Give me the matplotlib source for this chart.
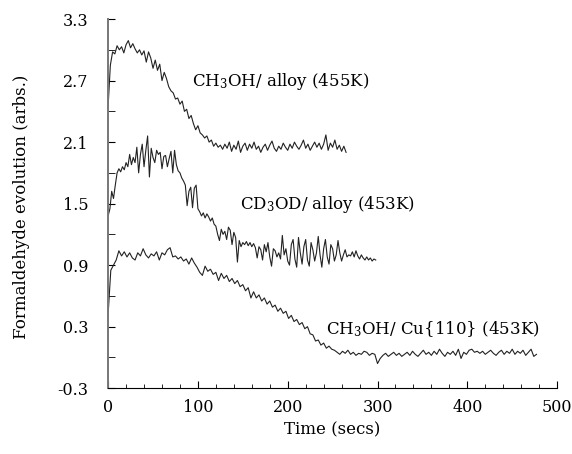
import numpy as np
import matplotlib
matplotlib.use("Agg")
import matplotlib.pyplot as plt

plt.rcParams["font.family"] = "DejaVu Serif"
plt.rcParams["mathtext.fontset"] = "dejavuserif"

# ---------------------------------------------------------------------------
# Data (time step per series, arbitrary units)
# ---------------------------------------------------------------------------

# CH3OH / alloy (455K), sampled every 2.5 s
step_ch3oh_alloy = 2.5
ch3oh_alloy = [
    2.45, 2.85, 2.98, 2.96, 3.04, 3.00, 3.03, 2.97, 3.05, 3.09,
    3.02, 3.06, 3.01, 2.97, 3.00, 2.95, 2.99, 2.88, 2.98, 2.92,
    2.82, 2.90, 2.80, 2.86, 2.70, 2.78, 2.72, 2.64, 2.60, 2.58,
    2.52, 2.53, 2.47, 2.50, 2.40, 2.42, 2.33, 2.36, 2.28, 2.22,
    2.26, 2.19, 2.17, 2.14, 2.16, 2.10, 2.12, 2.06, 2.09, 2.05,
    2.07, 2.03, 2.08, 2.04, 2.10, 2.01, 2.07, 2.03, 2.11, 2.00,
    2.06, 2.09, 2.02, 2.08, 2.04, 2.10, 2.03, 2.06, 2.00, 2.05,
    2.08, 2.02, 2.07, 2.11, 2.04, 2.01, 2.06, 2.03, 2.09, 2.05,
    2.02, 2.08, 2.04, 2.10, 2.06, 2.03, 2.07, 2.12, 2.04, 2.08,
    2.02, 2.06, 2.10, 2.05, 2.09, 2.03, 2.08, 2.17, 2.02, 2.09,
    2.05, 2.12, 2.03, 2.07, 2.01, 2.06, 2.00,
]

# CD3OD / alloy (453K), sampled every 2 s
step_cd3od_alloy = 2.0
cd3od_alloy = [
    1.38, 1.45, 1.62, 1.55, 1.68, 1.80, 1.84, 1.81, 1.86, 1.83,
    1.90, 1.86, 1.98, 1.88, 1.95, 1.90, 2.05, 1.80, 1.98, 2.08,
    1.86, 2.02, 2.16, 1.76, 2.04, 1.95, 1.90, 2.02, 1.98, 2.00,
    1.84, 1.96, 1.97, 1.86, 1.94, 2.01, 1.80, 2.02, 1.88, 1.82,
    1.80, 1.75, 1.72, 1.68, 1.48, 1.62, 1.66, 1.46, 1.65, 1.68,
    1.45, 1.42, 1.38, 1.41, 1.36, 1.40, 1.37, 1.33, 1.36, 1.30,
    1.28, 1.20, 1.14, 1.25, 1.20, 1.23, 1.15, 1.27, 1.24, 1.10,
    1.22, 1.17, 0.93, 1.14, 1.08, 1.12, 1.10, 1.13, 1.09, 1.12,
    1.08, 1.11, 1.07, 0.97, 1.08, 1.05, 0.95, 1.10, 1.03, 1.12,
    0.98, 0.89, 1.06, 1.04, 0.98, 1.02, 0.96, 1.19, 1.00, 1.06,
    0.94, 0.90, 1.10, 1.15, 0.96, 0.88, 1.17, 1.02, 0.91, 1.08,
    1.15, 0.95, 0.89, 1.12, 1.05, 0.94, 1.02, 1.18, 1.00, 0.88,
    1.06, 1.15, 0.98, 0.91, 1.10, 1.06, 0.94, 1.00, 1.14, 1.02,
    0.94, 1.00, 1.05, 0.98, 1.00, 0.99, 1.03, 0.98, 1.04, 0.99,
    0.96, 1.00, 0.97, 0.95, 0.98, 0.95, 0.97, 0.94, 0.96, 0.95,
]

# CH3OH / Cu{110} (453K), sampled every 3 s
step_ch3oh_cu = 3.0
ch3oh_cu = [
    0.42, 0.85, 0.90, 0.95, 1.04, 0.99, 1.03, 0.98, 1.02, 0.97,
    0.95, 1.02, 0.99, 1.06, 1.00, 0.97, 1.01, 0.99, 1.03, 0.95,
    1.02, 1.00, 1.05, 1.07, 0.98, 0.99, 0.96, 0.98, 0.94, 0.96,
    0.91, 0.97, 0.92, 0.88, 0.83, 0.80, 0.89, 0.84, 0.86, 0.81,
    0.83, 0.75, 0.82, 0.77, 0.80, 0.74, 0.77, 0.72, 0.75, 0.69,
    0.71, 0.65, 0.68, 0.58, 0.64, 0.58, 0.61, 0.55, 0.58, 0.52,
    0.55, 0.49, 0.51, 0.45, 0.48, 0.43, 0.45, 0.38, 0.41, 0.35,
    0.37, 0.32, 0.34, 0.28, 0.30, 0.23, 0.22, 0.16, 0.17, 0.12,
    0.14, 0.09, 0.11, 0.08, 0.07, 0.05, 0.03, 0.06, 0.04, 0.07,
    0.03, 0.05, 0.02, 0.04, 0.03, 0.06, 0.05, 0.02, 0.04, 0.03,
    -0.06, -0.01, 0.02, 0.04, 0.01, 0.03, 0.05, 0.02, 0.04, 0.01,
    0.03, 0.05, 0.02, 0.06, 0.03, 0.01, 0.04, 0.07, 0.03, 0.05,
    0.02, 0.06, 0.03, 0.08, 0.04, 0.01, 0.05, 0.03, 0.06, 0.02,
    0.08, -0.01, 0.05, 0.03, 0.07, 0.08, 0.05, 0.06, 0.04, 0.06,
    0.03, 0.05, 0.07, 0.04, 0.02, 0.05, 0.07, 0.03, 0.06, 0.04,
    0.08, 0.03, 0.06, 0.04, 0.07, 0.02, 0.05, 0.08, 0.01, 0.03,
]

series = [
    (step_ch3oh_alloy, ch3oh_alloy),
    (step_cd3od_alloy, cd3od_alloy),
    (step_ch3oh_cu, ch3oh_cu),
]

labels = [
    ("CH$_3$OH/ alloy (455K)", 93.5, 2.65),
    ("CD$_3$OD/ alloy (453K)", 147, 1.45),
    ("CH$_3$OH/ Cu{110} (453K)", 243, 0.23),
]

y_major = [-0.3, 0.3, 0.9, 1.5, 2.1, 2.7, 3.3]
y_minor = [0.0, 0.6, 1.2, 1.8, 2.4, 3.0]

# ---------------------------------------------------------------------------
# Plot
# ---------------------------------------------------------------------------

fig = plt.figure(figsize=(5.72, 4.54), dpi=100)
ax = fig.add_axes([0.189, 0.145, 0.785, 0.813])

for step, vals in series:
    t = np.arange(len(vals)) * step
    ax.plot(t, vals, color="#222222", lw=0.8)

for text, x, y in labels:
    ax.text(x, y, text, fontsize=12, ha="left", va="baseline")

ax.set_xlim(0, 500)
ax.set_ylim(-0.3, 3.3)

ax.set_xticks(np.arange(0, 501, 100))
ax.set_xticks(np.arange(0, 501, 20), minor=True)
ax.set_yticks(y_major)
ax.set_yticklabels([f"{v:.1f}" for v in y_major])
ax.set_yticks(y_minor, minor=True)

ax.tick_params(axis="both", which="both", direction="in", labelsize=11.5)
ax.tick_params(axis="x", which="major", length=5, pad=8)
ax.tick_params(axis="x", which="minor", length=3)
ax.tick_params(axis="y", which="both", length=5, pad=14)

for side in ("top", "right"):
    ax.spines[side].set_visible(False)
ax.spines["left"].set_color("#777777")
ax.spines["left"].set_linewidth(1.4)

ax.set_xlabel("Time (secs)", fontsize=12, labelpad=4)
ax.set_ylabel("Formaldehyde evolution (arbs.)", fontsize=12)
ax.yaxis.set_label_coords(-0.175, 0.49)

plt.savefig("out.png", dpi=100)
